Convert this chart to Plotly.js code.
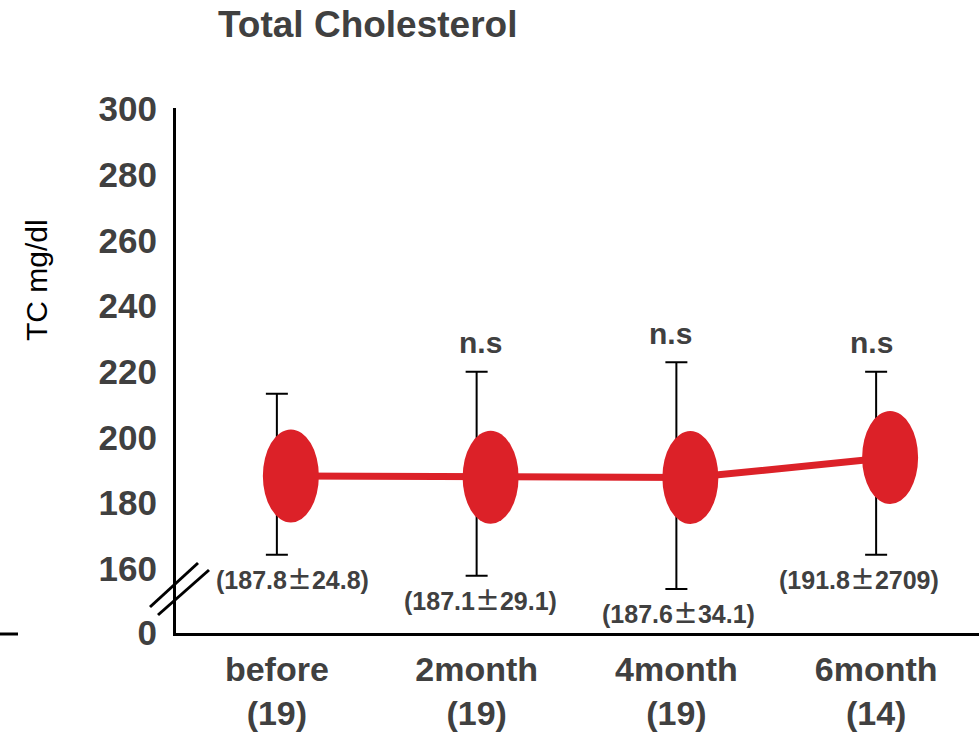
<!DOCTYPE html>
<html>
<head>
<meta charset="utf-8">
<script src="https://cdn.plot.ly/plotly-3.0.1.min.js"></script>
<style>html,body{margin:0;padding:0;background:#fff;}#chart{width:979px;height:734px;}</style>
</head>
<body>
<div id="chart"></div>
<script>
// ---- data ----
var categories = ["before<br>(19)", "2month<br>(19)", "4month<br>(19)", "6month<br>(14)"];
var meanValues = [188.3, 187.9, 187.8, 193.9];
var errorUpper = [213.3, 220.0, 222.9, 220.0];
var errorLower = [164.3, 157.9, 153.9, 164.3];
var statMeans = ["187.8", "187.1", "187.6", "191.8"];
var statSDs = ["24.8", "29.1", "34.1", "2709"];
var sigLabels = ["", "n.s", "n.s", "n.s"];
var yTickValues = [140.5, 160, 180, 200, 220, 240, 260, 280, 300];
var yTickLabels = ["0", "160", "180", "200", "220", "240", "260", "280", "300"];

// ---- style ----
var red = "#DC2128";
var grey = "#404040";
var font = "Liberation Sans, Arial, sans-serif";
var markerOffset = 0.07;          // markers drawn slightly right of the error bars
var statShift = [16, 4, 2, -17];  // label x shifts in px
var sigShift = [0, 4, -6, -5];

var idx = categories.map(function (_, i) { return i; });
var markerX = idx.map(function (i) { return i + markerOffset; });

var errTrace = {
  x: idx, y: meanValues, type: "scatter", mode: "markers",
  marker: { size: 1, color: "rgba(0,0,0,0)" },
  error_y: {
    type: "data", symmetric: false,
    array: meanValues.map(function (m, i) { return errorUpper[i] - m; }),
    arrayminus: meanValues.map(function (m, i) { return m - errorLower[i]; }),
    color: "#000", thickness: 2, width: 11
  },
  hoverinfo: "skip", showlegend: false
};
var lineTrace = {
  x: markerX, y: meanValues, type: "scatter", mode: "lines",
  line: { color: red, width: 7 }, showlegend: false
};

var shapes = [];
idx.forEach(function (i) {
  shapes.push({
    type: "circle", xref: "x", yref: "y",
    xsizemode: "pixel", ysizemode: "pixel",
    xanchor: markerX[i], yanchor: meanValues[i],
    x0: -28, x1: 28, y0: -46.5, y1: 46.5,
    fillcolor: red, line: { width: 0 }, layer: "above"
  });
});
// axis break marks and the short baseline stub at the far left
function px2paper(px, py) { return [(px - 176) / 803, (633 - py) / 525]; }
[[150, 607, 198, 563], [158, 615, 209, 570], [0, 634, 18, 634]].forEach(function (s) {
  var a = px2paper(s[0], s[1]), b = px2paper(s[2], s[3]);
  shapes.push({ type: "line", xref: "paper", yref: "paper",
    x0: a[0], y0: a[1], x1: b[0], y1: b[1], line: { color: "#000", width: 3 } });
});

var annotations = [];
idx.forEach(function (i) {
  annotations.push({
    x: i, y: errorLower[i], xref: "x", yref: "y",
    text: "(" + statMeans[i] + "<span style=\"font-family:'Noto Sans CJK JP'\">\u00b1</span>" + statSDs[i] + ")",
    showarrow: false, yanchor: "middle", yshift: -23, xshift: statShift[i],
    font: { family: font, size: 25, color: grey, weight: "bold" }
  });
  if (sigLabels[i]) {
    annotations.push({
      x: i, y: errorUpper[i], xref: "x", yref: "y", text: sigLabels[i],
      showarrow: false, yanchor: "middle", yshift: 29, xshift: sigShift[i],
      font: { family: font, size: 30, color: grey, weight: "bold" }
    });
  }
});
// y axis title (sits above the plot centre in the reference)
annotations.push({
  text: "TC mg/dl", xref: "paper", yref: "paper",
  x: (36 - 176) / 803, y: (633 - 280) / 525, textangle: -90,
  showarrow: false, xanchor: "center", yanchor: "middle",
  font: { family: font, size: 30, color: "#000" }
});

var layout = {
  width: 979, height: 734,
  margin: { l: 176, r: 0, t: 108, b: 101 },
  paper_bgcolor: "#fff", plot_bgcolor: "#fff",
  showlegend: false,
  title: {
    text: "<b>Total Cholesterol</b>", x: 218 / 979, xanchor: "left",
    y: 1 - 24 / 734, yanchor: "middle",
    font: { family: font, size: 37, color: grey }
  },
  xaxis: {
    range: [-0.505, 3.515], tickmode: "array", tickvals: idx, ticktext: categories,
    showline: true, linecolor: "#000", linewidth: 3, showgrid: false, zeroline: false,
    ticks: "", ticklabelstandoff: 4,
    tickfont: { family: font, size: 34, color: grey, weight: "bold" }
  },
  yaxis: {
    range: [140.5, 300.3], tickmode: "array", tickvals: yTickValues, ticktext: yTickLabels,
    showline: true, linecolor: "#000", linewidth: 3, showgrid: false, zeroline: false,
    ticks: "", ticklabelstandoff: 9,
    tickfont: { family: font, size: 35, color: grey, weight: "bold" }
  },
  shapes: shapes,
  annotations: annotations
};

Plotly.newPlot("chart", [errTrace, lineTrace], layout, { displayModeBar: false, staticPlot: true });
</script>
</body>
</html>
